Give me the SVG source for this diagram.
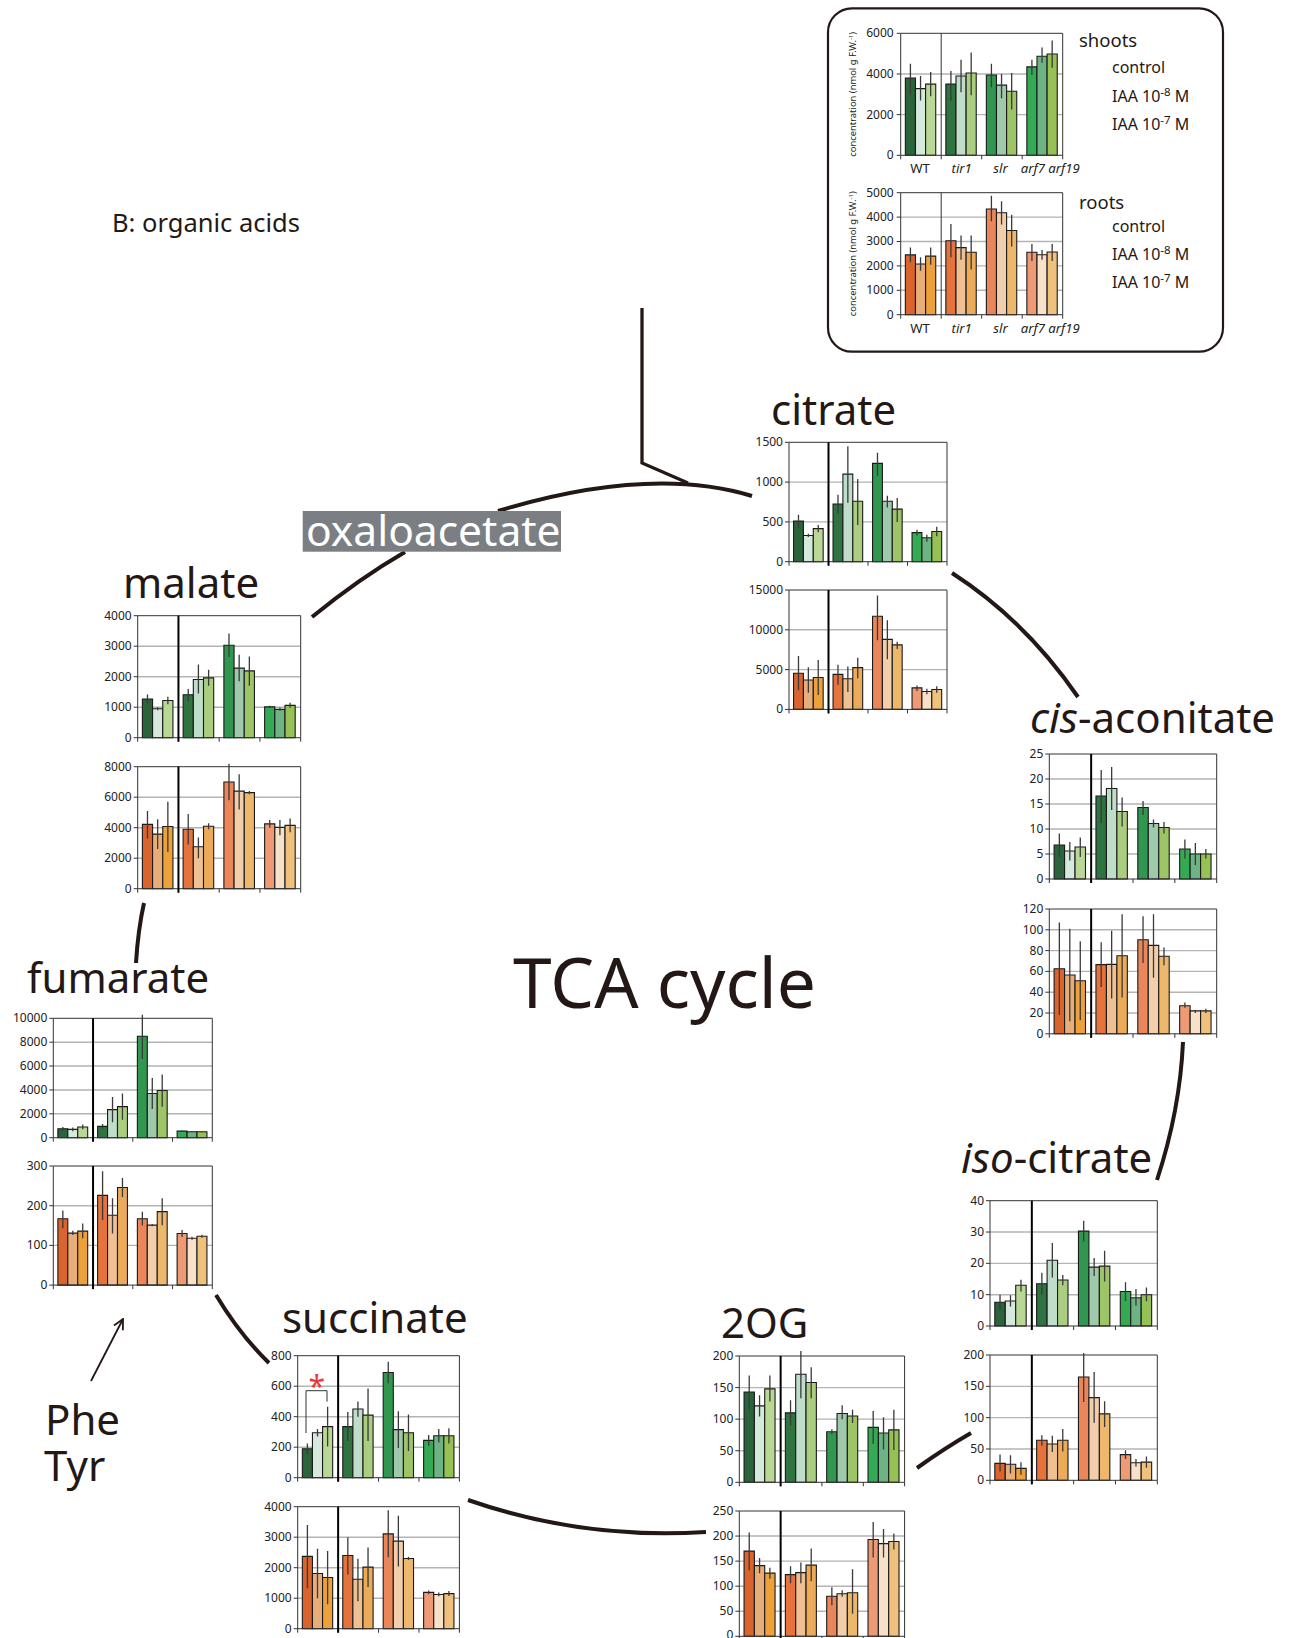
<svg xmlns="http://www.w3.org/2000/svg" width="1293" height="1638" viewBox="0 0 1293 1638">
<style>
text{font-family:"Noto Sans","Open Sans",sans-serif;fill:#231815}
.lbl{font-size:42px}
.yl{font-size:12px;text-anchor:end;fill:#222}
.xl{font-size:13.2px;fill:#222}
.yt{font-size:9.4px;text-anchor:middle;fill:#222}
.lg{font-size:16px;fill:#231815}
.d *{vector-effect:non-scaling-stroke}
.d rect{stroke:#1a1a1a;stroke-width:1.1}
.grid{stroke:#b4b4b4;stroke-width:1.4;fill:none}
.err{stroke:#3a3a3a;stroke-width:1.3;fill:none}
.ax{stroke:#333;stroke-width:1;fill:none}
.sep{stroke:#000;stroke-width:2;fill:none}
.con{stroke:#231815;stroke-width:4;fill:none;stroke-linecap:butt}
.s0{fill:#2b643a}.s1{fill:#d6e9dd}.s2{fill:#b9d795}.s3{fill:#2e7340}.s4{fill:#bfddc9}.s5{fill:#aacd80}.s6{fill:#319650}.s7{fill:#9ec9aa}.s8{fill:#9dc466}.s9{fill:#35aa55}.s10{fill:#6db384}.s11{fill:#95c155}
.r0{fill:#d9642e}.r1{fill:#e8ae7a}.r2{fill:#eda13b}.r3{fill:#e6733c}.r4{fill:#eec092}.r5{fill:#ecab58}.r6{fill:#ea865a}.r7{fill:#f2cfaa}.r8{fill:#eeb86c}.r9{fill:#ee9a74}.r10{fill:#f7e1c8}.r11{fill:#f0c17d}
</style>
<defs>
<marker id="open" viewBox="0 0 12 12" refX="11" refY="6" markerWidth="12" markerHeight="12" markerUnits="userSpaceOnUse" orient="auto">
<path d="M1 1L11 6L1 11" fill="none" stroke="#231815" stroke-width="1.8"/>
</marker>
</defs>
<rect width="1293" height="1638" fill="#fff"/>

<text x="112" y="232" style="font-size:25.5px">B: organic acids</text>
<text id="tca" x="513" y="1008" style="font-size:69.5px">TCA cycle</text>

<g id="connectors">
<path class="con" d="M498 511Q650 465 752 496"/>
<path class="con" style="stroke-width:3.3" d="M642 308V463L688 483"/>
<path class="con" d="M405 552Q360 578 312 617"/>
<path class="con" d="M952 573Q1025 620 1078 697"/>
<path class="con" d="M1183 1042Q1180 1110 1157 1180"/>
<path class="con" d="M971 1433Q945 1448 917 1468"/>
<path class="con" d="M468 1500Q583 1540 706 1532"/>
<path class="con" d="M269 1363Q240 1335 216 1295"/>
<path class="con" d="M136 963Q138 930 144 903"/>
<path fill="none" stroke="#231815" stroke-width="1.8" d="M91 1381L123 1319" marker-end="url(#open)"/>
</g>

<g id="legend">
<rect x="828" y="8.3" width="395" height="343.4" rx="24" fill="#fff" stroke="#231815" stroke-width="2.2"/>
<text x="1079" y="46.7" style="font-size:18.5px">shoots</text>
<text class="lg" x="1112" y="73">control</text>
<text class="lg" x="1112" y="102">IAA 10<tspan dy="-6" style="font-size:11.5px">-8</tspan><tspan dy="6"> M</tspan></text>
<text class="lg" x="1112" y="130">IAA 10<tspan dy="-6" style="font-size:11.5px">-7</tspan><tspan dy="6"> M</tspan></text>
<text x="1079" y="209" style="font-size:18.5px">roots</text>
<text class="lg" x="1112" y="232.3">control</text>
<text class="lg" x="1112" y="260">IAA 10<tspan dy="-6" style="font-size:11.5px">-8</tspan><tspan dy="6"> M</tspan></text>
<text class="lg" x="1112" y="288.3">IAA 10<tspan dy="-6" style="font-size:11.5px">-7</tspan><tspan dy="6"> M</tspan></text>

<g id="legend-shoots" transform="translate(900.7,33.3)">
<g class="d" transform="translate(0,122) scale(40.5,-0.020333)">
<path class="grid" d="M0 2000H4M0 4000H4"/>
<rect class="s0" x=".115" width=".25" height="3800"/><rect class="s1" x=".365" width=".25" height="3280"/><rect class="s2" x=".615" width=".25" height="3500"/>
<rect class="s3" x="1.115" width=".25" height="3500"/><rect class="s4" x="1.365" width=".25" height="3900"/><rect class="s5" x="1.615" width=".25" height="4050"/>
<rect class="s6" x="2.115" width=".25" height="3950"/><rect class="s7" x="2.365" width=".25" height="3450"/><rect class="s8" x="2.615" width=".25" height="3150"/>
<rect class="s9" x="3.115" width=".25" height="4350"/><rect class="s10" x="3.365" width=".25" height="4870"/><rect class="s11" x="3.615" width=".25" height="4980"/>
<path class="err" d="M.24 3000V4500M.49 2700V3900M.74 2900V4100M1.24 2700V4150M1.49 3100V4700M1.74 2950V5050M2.24 3350V4500M2.49 2800V4000M2.74 2250V4050M3.24 3950V4700M3.49 4550V5300M3.74 4300V5650"/>
</g>
<path class="ax" d="M0 0H162V122H0ZM-4 0H0M-4 40.67H0M-4 81.33H0M-4 122H0M0 122v4M40.5 122v4M81 122v4M121.5 122v4M162 122v4M40.5 0V122"/>
<text class="yl" x="-7" y="4">6000</text><text class="yl" x="-7" y="44.7">4000</text><text class="yl" x="-7" y="85.3">2000</text><text class="yl" x="-7" y="126">0</text>
<text class="xl" x="19.3" y="139.7" text-anchor="middle">WT</text>
<text class="xl" x="61" y="139.7" text-anchor="middle" font-style="italic">tir1</text>
<text class="xl" x="99.8" y="139.7" text-anchor="middle" font-style="italic">slr</text>
<text class="xl" x="120" y="139.7" font-style="italic">arf7 arf19</text>
<text class="yt" transform="translate(-44.5,61) rotate(-90)">concentration (nmol g F.W.<tspan dy="-3.5" style="font-size:6px">-1</tspan><tspan dy="3.5">)</tspan></text>
</g>

<g id="legend-roots" transform="translate(900.7,192.7)">
<g class="d" transform="translate(0,122) scale(40.5,-0.0244)">
<path class="grid" d="M0 1000H4M0 2000H4M0 3000H4M0 4000H4"/>
<rect class="r0" x=".115" width=".25" height="2450"/><rect class="r1" x=".365" width=".25" height="2080"/><rect class="r2" x=".615" width=".25" height="2400"/>
<rect class="r3" x="1.115" width=".25" height="3030"/><rect class="r4" x="1.365" width=".25" height="2750"/><rect class="r5" x="1.615" width=".25" height="2560"/>
<rect class="r6" x="2.115" width=".25" height="4330"/><rect class="r7" x="2.365" width=".25" height="4180"/><rect class="r8" x="2.615" width=".25" height="3450"/>
<rect class="r9" x="3.115" width=".25" height="2560"/><rect class="r10" x="3.365" width=".25" height="2460"/><rect class="r11" x="3.615" width=".25" height="2570"/>
<path class="err" d="M.24 2150V2750M.49 1800V2350M.74 2050V2750M1.24 2350V3720M1.49 2250V3250M1.74 1850V3250M2.24 3830V4870M2.49 3700V4650M2.74 2800V4100M3.24 2200V2900M3.49 2250V2650M3.74 2200V2900"/>
</g>
<path class="ax" d="M0 0H162V122H0ZM-4 0H0M-4 24.4H0M-4 48.8H0M-4 73.2H0M-4 97.6H0M-4 122H0M0 122v4M40.5 122v4M81 122v4M121.5 122v4M162 122v4M40.5 0V122"/>
<text class="yl" x="-7" y="4">5000</text><text class="yl" x="-7" y="28.4">4000</text><text class="yl" x="-7" y="52.8">3000</text><text class="yl" x="-7" y="77.2">2000</text><text class="yl" x="-7" y="101.6">1000</text><text class="yl" x="-7" y="126">0</text>
<text class="xl" x="19.3" y="140.6" text-anchor="middle">WT</text>
<text class="xl" x="61" y="140.6" text-anchor="middle" font-style="italic">tir1</text>
<text class="xl" x="99.8" y="140.6" text-anchor="middle" font-style="italic">slr</text>
<text class="xl" x="120" y="140.6" font-style="italic">arf7 arf19</text>
<text class="yt" transform="translate(-44.5,61) rotate(-90)">concentration (nmol g F.W.<tspan dy="-3.5" style="font-size:6px">-1</tspan><tspan dy="3.5">)</tspan></text>
</g>
</g>

<g id="citrate">
<text class="lbl" x="771" y="425">citrate</text>
<g id="citrate-shoots" transform="translate(789,442.3)">
<g class="d" transform="translate(0,119.4) scale(39.5,-0.0796)">
<path class="grid" d="M0 500H4M0 1000H4"/>
<rect class="s0" x=".115" width=".25" height="510"/><rect class="s1" x=".365" width=".25" height="330"/><rect class="s2" x=".615" width=".25" height="415"/>
<rect class="s3" x="1.115" width=".25" height="725"/><rect class="s4" x="1.365" width=".25" height="1100"/><rect class="s5" x="1.615" width=".25" height="760"/>
<rect class="s6" x="2.115" width=".25" height="1235"/><rect class="s7" x="2.365" width=".25" height="760"/><rect class="s8" x="2.615" width=".25" height="660"/>
<rect class="s9" x="3.115" width=".25" height="365"/><rect class="s10" x="3.365" width=".25" height="300"/><rect class="s11" x="3.615" width=".25" height="380"/>
<path class="err" d="M.24 420V590M.49 310V350M.74 370V460M1.24 610V840M1.49 740V1450M1.74 460V1040M2.24 1080V1370M2.49 680V830M2.74 500V800M3.24 330V400M3.49 250V340M3.74 320V440"/>
</g>
<path class="ax" d="M0 0H158V119.4H0ZM-4 0H0M-4 39.8H0M-4 79.6H0M-4 119.4H0M0 119.4v4M39.5 119.4v4M79 119.4v4M118.5 119.4v4M158 119.4v4"/>
<path class="sep" d="M39.5 0V123.4"/>
<text class="yl" x="-6" y="4">1500</text><text class="yl" x="-6" y="43.8">1000</text><text class="yl" x="-6" y="83.6">500</text><text class="yl" x="-6" y="123.4">0</text>
</g>
<g id="citrate-roots" transform="translate(789,590)">
<g class="d" transform="translate(0,119.4) scale(39.5,-0.00796)">
<path class="grid" d="M0 5000H4M0 10000H4"/>
<rect class="r0" x=".115" width=".25" height="4550"/><rect class="r1" x=".365" width=".25" height="3700"/><rect class="r2" x=".615" width=".25" height="4000"/>
<rect class="r3" x="1.115" width=".25" height="4400"/><rect class="r4" x="1.365" width=".25" height="3850"/><rect class="r5" x="1.615" width=".25" height="5250"/>
<rect class="r6" x="2.115" width=".25" height="11700"/><rect class="r7" x="2.365" width=".25" height="8800"/><rect class="r8" x="2.615" width=".25" height="8100"/>
<rect class="r9" x="3.115" width=".25" height="2700"/><rect class="r10" x="3.365" width=".25" height="2250"/><rect class="r11" x="3.615" width=".25" height="2500"/>
<path class="err" d="M.24 2400V6700M.49 2100V5300M.74 1800V6200M1.24 3100V5600M1.49 2200V5400M1.74 3900V6500M2.24 8700V14300M2.49 6300V11200M2.74 7600V8500M3.24 2300V3000M3.49 1900V2600M3.74 2100V2900"/>
</g>
<path class="ax" d="M0 0H158V119.4H0ZM-4 0H0M-4 39.8H0M-4 79.6H0M-4 119.4H0M0 119.4v4M39.5 119.4v4M79 119.4v4M118.5 119.4v4M158 119.4v4"/>
<path class="sep" d="M39.5 0V123.4"/>
<text class="yl" x="-6" y="4">15000</text><text class="yl" x="-6" y="43.8">10000</text><text class="yl" x="-6" y="83.6">5000</text><text class="yl" x="-6" y="123.4">0</text>
</g>
</g>

<g id="oxaloacetate">
<rect x="302.7" y="511" width="258.3" height="40.7" fill="#7b7f83"/>
<text class="lbl" x="306" y="546" style="fill:#fff;font-size:42.5px">oxaloacetate</text>
</g>

<g id="malate">
<text class="lbl" x="123" y="598">malate</text>
<g id="malate-shoots" transform="translate(137.7,615.7)">
<g class="d" transform="translate(0,122) scale(40.75,-0.0305)">
<path class="grid" d="M0 1000H4M0 2000H4M0 3000H4"/>
<rect class="s0" x=".115" width=".25" height="1270"/><rect class="s1" x=".365" width=".25" height="950"/><rect class="s2" x=".615" width=".25" height="1220"/>
<rect class="s3" x="1.115" width=".25" height="1410"/><rect class="s4" x="1.365" width=".25" height="1910"/><rect class="s5" x="1.615" width=".25" height="1960"/>
<rect class="s6" x="2.115" width=".25" height="3030"/><rect class="s7" x="2.365" width=".25" height="2280"/><rect class="s8" x="2.615" width=".25" height="2190"/>
<rect class="s9" x="3.115" width=".25" height="1010"/><rect class="s10" x="3.365" width=".25" height="930"/><rect class="s11" x="3.615" width=".25" height="1060"/>
<path class="err" d="M.24 1120V1420M.49 900V1000M.74 1100V1340M1.24 1200V1600M1.49 1450V2400M1.74 1700V2230M2.24 2650V3420M2.49 1850V2720M2.74 1700V2660M3.24 970V1050M3.49 880V990M3.74 980V1150"/>
</g>
<path class="ax" d="M0 0H163V122H0ZM-4 0H0M-4 30.5H0M-4 61H0M-4 91.5H0M-4 122H0M0 122v4M40.75 122v4M81.5 122v4M122.25 122v4M163 122v4"/>
<path class="sep" d="M40.75 0V126"/>
<text class="yl" x="-6" y="4">4000</text><text class="yl" x="-6" y="34.5">3000</text><text class="yl" x="-6" y="65">2000</text><text class="yl" x="-6" y="95.5">1000</text><text class="yl" x="-6" y="126">0</text>
</g>
<g id="malate-roots" transform="translate(137.7,766.7)">
<g class="d" transform="translate(0,122) scale(40.75,-0.01525)">
<path class="grid" d="M0 2000H4M0 4000H4M0 6000H4"/>
<rect class="r0" x=".115" width=".25" height="4220"/><rect class="r1" x=".365" width=".25" height="3580"/><rect class="r2" x=".615" width=".25" height="4080"/>
<rect class="r3" x="1.115" width=".25" height="3900"/><rect class="r4" x="1.365" width=".25" height="2750"/><rect class="r5" x="1.615" width=".25" height="4100"/>
<rect class="r6" x="2.115" width=".25" height="7000"/><rect class="r7" x="2.365" width=".25" height="6400"/><rect class="r8" x="2.615" width=".25" height="6300"/>
<rect class="r9" x="3.115" width=".25" height="4250"/><rect class="r10" x="3.365" width=".25" height="4020"/><rect class="r11" x="3.615" width=".25" height="4150"/>
<path class="err" d="M.24 3300V5100M.49 2600V4550M.74 2400V5700M1.24 2900V4900M1.49 2000V3350M1.74 3900V4300M2.24 5800V8200M2.49 5200V7500M2.74 6200V6400M3.24 4000V4500M3.49 3500V4500M3.74 3700V4600"/>
</g>
<path class="ax" d="M0 0H163V122H0ZM-4 0H0M-4 30.5H0M-4 61H0M-4 91.5H0M-4 122H0M0 122v4M40.75 122v4M81.5 122v4M122.25 122v4M163 122v4"/>
<path class="sep" d="M40.75 0V126"/>
<text class="yl" x="-6" y="4">8000</text><text class="yl" x="-6" y="34.5">6000</text><text class="yl" x="-6" y="65">4000</text><text class="yl" x="-6" y="95.5">2000</text><text class="yl" x="-6" y="126">0</text>
</g>
</g>

<g id="cis-aconitate">
<text class="lbl" x="1030" y="733"><tspan font-style="italic">cis</tspan>-aconitate</text>
<g id="cis-shoots" transform="translate(1049.3,754)">
<g class="d" transform="translate(0,125) scale(41.85,-5)">
<path class="grid" d="M0 5H4M0 10H4M0 15H4M0 20H4"/>
<rect class="s0" x=".115" width=".25" height="6.8"/><rect class="s1" x=".365" width=".25" height="5.6"/><rect class="s2" x=".615" width=".25" height="6.4"/>
<rect class="s3" x="1.115" width=".25" height="16.6"/><rect class="s4" x="1.365" width=".25" height="18.1"/><rect class="s5" x="1.615" width=".25" height="13.5"/>
<rect class="s6" x="2.115" width=".25" height="14.3"/><rect class="s7" x="2.365" width=".25" height="11.1"/><rect class="s8" x="2.615" width=".25" height="10.3"/>
<rect class="s9" x="3.115" width=".25" height="6"/><rect class="s10" x="3.365" width=".25" height="5"/><rect class="s11" x="3.615" width=".25" height="5"/>
<path class="err" d="M.24 4.4V9.1M.49 3.7V7.4M.74 4.4V8.3M1.24 11.2V21.8M1.49 13.8V22.4M1.74 10.5V16.3M2.24 12.8V15.6M2.49 10.3V11.9M2.74 9.1V11.4M3.24 4.1V7.9M3.49 2.8V7.2M3.74 4.1V6"/>
</g>
<path class="ax" d="M0 0H167.4V125H0ZM-4 0H0M-4 25H0M-4 50H0M-4 75H0M-4 100H0M-4 125H0M0 125v4M41.85 125v4M83.7 125v4M125.55 125v4M167.4 125v4"/>
<path class="sep" d="M41.85 0V129"/>
<text class="yl" x="-6" y="4">25</text><text class="yl" x="-6" y="29">20</text><text class="yl" x="-6" y="54">15</text><text class="yl" x="-6" y="79">10</text><text class="yl" x="-6" y="104">5</text><text class="yl" x="-6" y="129">0</text>
</g>
<g id="cis-roots" transform="translate(1049.3,909)">
<g class="d" transform="translate(0,124.8) scale(41.85,-1.04)">
<path class="grid" d="M0 20H4M0 40H4M0 60H4M0 80H4M0 100H4"/>
<rect class="r0" x=".115" width=".25" height="62.5"/><rect class="r1" x=".365" width=".25" height="56.5"/><rect class="r2" x=".615" width=".25" height="51"/>
<rect class="r3" x="1.115" width=".25" height="66.5"/><rect class="r4" x="1.365" width=".25" height="66.8"/><rect class="r5" x="1.615" width=".25" height="75"/>
<rect class="r6" x="2.115" width=".25" height="90.5"/><rect class="r7" x="2.365" width=".25" height="85"/><rect class="r8" x="2.615" width=".25" height="74.5"/>
<rect class="r9" x="3.115" width=".25" height="27"/><rect class="r10" x="3.365" width=".25" height="22"/><rect class="r11" x="3.615" width=".25" height="22"/>
<path class="err" d="M.24 18V107M.49 12V101M.74 13V89M1.24 45V88M1.49 34V99M1.74 35V115M2.24 68V113M2.49 54V115M2.74 66V83M3.24 25V30M3.49 20V23M3.74 20V24"/>
</g>
<path class="ax" d="M0 0H167.4V124.8H0ZM-4 0H0M-4 20.8H0M-4 41.6H0M-4 62.4H0M-4 83.2H0M-4 104H0M-4 124.8H0M0 124.8v4M41.85 124.8v4M83.7 124.8v4M125.55 124.8v4M167.4 124.8v4"/>
<path class="sep" d="M41.85 0V128.8"/>
<text class="yl" x="-6" y="4">120</text><text class="yl" x="-6" y="24.8">100</text><text class="yl" x="-6" y="45.6">80</text><text class="yl" x="-6" y="66.4">60</text><text class="yl" x="-6" y="87.2">40</text><text class="yl" x="-6" y="108">20</text><text class="yl" x="-6" y="128.8">0</text>
</g>
</g>

<g id="fumarate">
<text class="lbl" x="27" y="993">fumarate</text>
<g id="fumarate-shoots" transform="translate(53.3,1018.3)">
<g class="d" transform="translate(0,119.4) scale(39.75,-0.01194)">
<path class="grid" d="M0 2000H4M0 4000H4M0 6000H4M0 8000H4"/>
<rect class="s0" x=".115" width=".25" height="750"/><rect class="s1" x=".365" width=".25" height="700"/><rect class="s2" x=".615" width=".25" height="900"/>
<rect class="s3" x="1.115" width=".25" height="950"/><rect class="s4" x="1.365" width=".25" height="2350"/><rect class="s5" x="1.615" width=".25" height="2600"/>
<rect class="s6" x="2.115" width=".25" height="8500"/><rect class="s7" x="2.365" width=".25" height="3700"/><rect class="s8" x="2.615" width=".25" height="3950"/>
<rect class="s9" x="3.115" width=".25" height="550"/><rect class="s10" x="3.365" width=".25" height="500"/><rect class="s11" x="3.615" width=".25" height="500"/>
<path class="err" d="M.24 600V900M.49 550V850M.74 700V1100M1.24 750V1150M1.49 1300V3400M1.74 1500V3700M2.24 6600V10300M2.49 2400V5000M2.74 2600V5300M3.24 500V600M3.49 470V530M3.74 460V540"/>
</g>
<path class="ax" d="M0 0H159V119.4H0ZM-4 0H0M-4 23.88H0M-4 47.76H0M-4 71.64H0M-4 95.52H0M-4 119.4H0M0 119.4v4M39.75 119.4v4M79.5 119.4v4M119.25 119.4v4M159 119.4v4"/>
<path class="sep" d="M39.75 0V123.4"/>
<text class="yl" x="-6" y="4">10000</text><text class="yl" x="-6" y="27.9">8000</text><text class="yl" x="-6" y="51.8">6000</text><text class="yl" x="-6" y="75.6">4000</text><text class="yl" x="-6" y="99.5">2000</text><text class="yl" x="-6" y="123.4">0</text>
</g>
<g id="fumarate-roots" transform="translate(53.3,1166)">
<g class="d" transform="translate(0,119.1) scale(39.75,-0.397)">
<path class="grid" d="M0 100H4M0 200H4"/>
<rect class="r0" x=".115" width=".25" height="167"/><rect class="r1" x=".365" width=".25" height="131"/><rect class="r2" x=".615" width=".25" height="136"/>
<rect class="r3" x="1.115" width=".25" height="226"/><rect class="r4" x="1.365" width=".25" height="176"/><rect class="r5" x="1.615" width=".25" height="246"/>
<rect class="r6" x="2.115" width=".25" height="167"/><rect class="r7" x="2.365" width=".25" height="151"/><rect class="r8" x="2.615" width=".25" height="185"/>
<rect class="r9" x="3.115" width=".25" height="130"/><rect class="r10" x="3.365" width=".25" height="118"/><rect class="r11" x="3.615" width=".25" height="123"/>
<path class="err" d="M.24 143V188M.49 126V137M.74 118V155M1.24 164V287M1.49 130V219M1.74 222V270M2.24 150V185M2.49 148V154M2.74 151V219M3.24 121V139M3.49 114V122M3.74 119V127"/>
</g>
<path class="ax" d="M0 0H159V119.1H0ZM-4 0H0M-4 39.7H0M-4 79.4H0M-4 119.1H0M0 119.1v4M39.75 119.1v4M79.5 119.1v4M119.25 119.1v4M159 119.1v4"/>
<path class="sep" d="M39.75 0V123.1"/>
<text class="yl" x="-6" y="4">300</text><text class="yl" x="-6" y="43.7">200</text><text class="yl" x="-6" y="83.4">100</text><text class="yl" x="-6" y="123.1">0</text>
</g>
</g>

<g id="iso-citrate">
<text class="lbl" x="961" y="1173"><tspan font-style="italic">iso</tspan>-citrate</text>
<g id="iso-shoots" transform="translate(990,1200.7)">
<g class="d" transform="translate(0,125.3) scale(41.825,-3.1325)">
<path class="grid" d="M0 10H4M0 20H4M0 30H4"/>
<rect class="s0" x=".115" width=".25" height="7.6"/><rect class="s1" x=".365" width=".25" height="8"/><rect class="s2" x=".615" width=".25" height="13"/>
<rect class="s3" x="1.115" width=".25" height="13.5"/><rect class="s4" x="1.365" width=".25" height="21"/><rect class="s5" x="1.615" width=".25" height="14.7"/>
<rect class="s6" x="2.115" width=".25" height="30.3"/><rect class="s7" x="2.365" width=".25" height="18.8"/><rect class="s8" x="2.615" width=".25" height="19.1"/>
<rect class="s9" x="3.115" width=".25" height="11"/><rect class="s10" x="3.365" width=".25" height="9"/><rect class="s11" x="3.615" width=".25" height="10"/>
<path class="err" d="M.24 5.2V10M.49 6.2V9.8M.74 11V14.8M1.24 10V17M1.49 15.5V26.5M1.74 13V16.3M2.24 27V33.6M2.49 16V21.7M2.74 14.2V24M3.24 8V14M3.49 6.5V11.8M3.74 7.9V12.3"/>
</g>
<path class="ax" d="M0 0H167.3V125.3H0ZM-4 0H0M-4 31.33H0M-4 62.65H0M-4 93.98H0M-4 125.3H0M0 125.3v4M41.83 125.3v4M83.65 125.3v4M125.48 125.3v4M167.3 125.3v4"/>
<path class="sep" d="M41.83 0V129.3"/>
<text class="yl" x="-6" y="4">40</text><text class="yl" x="-6" y="35.3">30</text><text class="yl" x="-6" y="66.7">20</text><text class="yl" x="-6" y="98">10</text><text class="yl" x="-6" y="129.3">0</text>
</g>
<g id="iso-roots" transform="translate(990,1355)">
<g class="d" transform="translate(0,125.3) scale(41.825,-0.6265)">
<path class="grid" d="M0 50H4M0 100H4M0 150H4"/>
<rect class="r0" x=".115" width=".25" height="27"/><rect class="r1" x=".365" width=".25" height="25.5"/><rect class="r2" x=".615" width=".25" height="19"/>
<rect class="r3" x="1.115" width=".25" height="64"/><rect class="r4" x="1.365" width=".25" height="58"/><rect class="r5" x="1.615" width=".25" height="64"/>
<rect class="r6" x="2.115" width=".25" height="165"/><rect class="r7" x="2.365" width=".25" height="132"/><rect class="r8" x="2.615" width=".25" height="106"/>
<rect class="r9" x="3.115" width=".25" height="41"/><rect class="r10" x="3.365" width=".25" height="28"/><rect class="r11" x="3.615" width=".25" height="29"/>
<path class="err" d="M.24 14V41M.49 11V40M.74 9V29M1.24 55V72M1.49 45V71M1.74 46V82M2.24 125V203M2.49 92V173M2.74 85V126M3.24 34V48M3.49 22V34M3.74 20V38"/>
</g>
<path class="ax" d="M0 0H167.3V125.3H0ZM-4 0H0M-4 31.33H0M-4 62.65H0M-4 93.98H0M-4 125.3H0M0 125.3v4M41.83 125.3v4M83.65 125.3v4M125.48 125.3v4M167.3 125.3v4"/>
<path class="sep" d="M41.83 0V129.3"/>
<text class="yl" x="-6" y="4">200</text><text class="yl" x="-6" y="35.3">150</text><text class="yl" x="-6" y="66.7">100</text><text class="yl" x="-6" y="98">50</text><text class="yl" x="-6" y="129.3">0</text>
</g>
</g>

<g id="succinate">
<text class="lbl" x="282" y="1333">succinate</text>
<g id="succinate-shoots" transform="translate(297.7,1355.7)">
<g class="d" transform="translate(0,122) scale(40.425,-0.1525)">
<path class="grid" d="M0 200H4M0 400H4M0 600H4"/>
<rect class="s0" x=".115" width=".25" height="190"/><rect class="s1" x=".365" width=".25" height="295"/><rect class="s2" x=".615" width=".25" height="335"/>
<rect class="s3" x="1.115" width=".25" height="335"/><rect class="s4" x="1.365" width=".25" height="450"/><rect class="s5" x="1.615" width=".25" height="410"/>
<rect class="s6" x="2.115" width=".25" height="690"/><rect class="s7" x="2.365" width=".25" height="315"/><rect class="s8" x="2.615" width=".25" height="295"/>
<rect class="s9" x="3.115" width=".25" height="245"/><rect class="s10" x="3.365" width=".25" height="275"/><rect class="s11" x="3.615" width=".25" height="275"/>
<path class="err" d="M.24 155V225M.49 270V320M.74 205V465M1.24 240V430M1.49 400V500M1.74 240V585M2.24 620V760M2.49 195V435M2.74 175V415M3.24 210V280M3.49 230V320M3.74 225V325"/>
</g>
<path class="ax" d="M0 0H161.7V122H0ZM-4 0H0M-4 30.5H0M-4 61H0M-4 91.5H0M-4 122H0M0 122v4M40.43 122v4M80.85 122v4M121.28 122v4M161.7 122v4"/>
<path class="sep" d="M40.43 0V126"/>
<text class="yl" x="-6" y="4">800</text><text class="yl" x="-6" y="34.5">600</text><text class="yl" x="-6" y="65">400</text><text class="yl" x="-6" y="95.5">200</text><text class="yl" x="-6" y="126">0</text>
</g>
<path fill="none" stroke="#333" stroke-width="1" d="M306 1433V1390.7H327V1401.7"/>
<text x="316.7" y="1397" text-anchor="middle" style="font-size:30px;fill:#e8383d">*</text>
<g id="succinate-roots" transform="translate(297.7,1506.7)">
<g class="d" transform="translate(0,122) scale(40.425,-0.0305)">
<path class="grid" d="M0 1000H4M0 2000H4M0 3000H4"/>
<rect class="r0" x=".115" width=".25" height="2370"/><rect class="r1" x=".365" width=".25" height="1810"/><rect class="r2" x=".615" width=".25" height="1680"/>
<rect class="r3" x="1.115" width=".25" height="2400"/><rect class="r4" x="1.365" width=".25" height="1620"/><rect class="r5" x="1.615" width=".25" height="2020"/>
<rect class="r6" x="2.115" width=".25" height="3110"/><rect class="r7" x="2.365" width=".25" height="2870"/><rect class="r8" x="2.615" width=".25" height="2300"/>
<rect class="r9" x="3.115" width=".25" height="1190"/><rect class="r10" x="3.365" width=".25" height="1120"/><rect class="r11" x="3.615" width=".25" height="1150"/>
<path class="err" d="M.24 1330V3400M.49 1000V2620M.74 800V2550M1.24 1780V3000M1.49 900V2290M1.74 1370V2660M2.24 2340V3880M2.49 2040V3700M2.74 2250V2360M3.24 1130V1250M3.49 1060V1190M3.74 1070V1240"/>
</g>
<path class="ax" d="M0 0H161.7V122H0ZM-4 0H0M-4 30.5H0M-4 61H0M-4 91.5H0M-4 122H0M0 122v4M40.43 122v4M80.85 122v4M121.28 122v4M161.7 122v4"/>
<path class="sep" d="M40.43 0V126"/>
<text class="yl" x="-6" y="4">4000</text><text class="yl" x="-6" y="34.5">3000</text><text class="yl" x="-6" y="65">2000</text><text class="yl" x="-6" y="95.5">1000</text><text class="yl" x="-6" y="126">0</text>
</g>
</g>

<g id="2OG">
<text class="lbl" x="721" y="1338">2OG</text>
<g id="2OG-shoots" transform="translate(739.3,1356)">
<g class="d" transform="translate(0,126.3) scale(41.325,-0.6315)">
<path class="grid" d="M0 50H4M0 100H4M0 150H4"/>
<rect class="s0" x=".115" width=".25" height="143"/><rect class="s1" x=".365" width=".25" height="121"/><rect class="s2" x=".615" width=".25" height="148"/>
<rect class="s3" x="1.115" width=".25" height="110"/><rect class="s4" x="1.365" width=".25" height="171"/><rect class="s5" x="1.615" width=".25" height="158"/>
<rect class="s6" x="2.115" width=".25" height="80"/><rect class="s7" x="2.365" width=".25" height="109"/><rect class="s8" x="2.615" width=".25" height="105"/>
<rect class="s9" x="3.115" width=".25" height="87"/><rect class="s10" x="3.365" width=".25" height="78"/><rect class="s11" x="3.615" width=".25" height="83"/>
<path class="err" d="M.24 116V169M.49 104V138M.74 128V169M1.24 90V130M1.49 133V208M1.74 133V182M2.24 76V84M2.49 100V122M2.74 94V115M3.24 61V113M3.49 52V103M3.74 51V115"/>
</g>
<path class="ax" d="M0 0H165.3V126.3H0ZM-4 0H0M-4 31.58H0M-4 63.15H0M-4 94.73H0M-4 126.3H0M0 126.3v4M41.33 126.3v4M82.65 126.3v4M123.98 126.3v4M165.3 126.3v4"/>
<path class="sep" d="M41.33 0V130.3"/>
<text class="yl" x="-6" y="4">200</text><text class="yl" x="-6" y="35.6">150</text><text class="yl" x="-6" y="67.2">100</text><text class="yl" x="-6" y="98.7">50</text><text class="yl" x="-6" y="130.3">0</text>
</g>
<g id="2OG-roots" transform="translate(739.3,1511)">
<g class="d" transform="translate(0,125.3) scale(41.325,-0.5012)">
<path class="grid" d="M0 50H4M0 100H4M0 150H4M0 200H4"/>
<rect class="r0" x=".115" width=".25" height="170"/><rect class="r1" x=".365" width=".25" height="141"/><rect class="r2" x=".615" width=".25" height="126"/>
<rect class="r3" x="1.115" width=".25" height="123"/><rect class="r4" x="1.365" width=".25" height="127"/><rect class="r5" x="1.615" width=".25" height="142"/>
<rect class="r6" x="2.115" width=".25" height="80"/><rect class="r7" x="2.365" width=".25" height="85"/><rect class="r8" x="2.615" width=".25" height="87"/>
<rect class="r9" x="3.115" width=".25" height="193"/><rect class="r10" x="3.365" width=".25" height="185"/><rect class="r11" x="3.615" width=".25" height="189"/>
<path class="err" d="M.24 132V207M.49 126V156M.74 115V137M1.24 106V140M1.49 106V147M1.74 110V175M2.24 62V98M2.49 79V92M2.74 45V134M3.24 157V228M3.49 157V214M3.74 173V205"/>
</g>
<path class="ax" d="M0 0H165.3V125.3H0ZM-4 0H0M-4 25.06H0M-4 50.12H0M-4 75.18H0M-4 100.24H0M-4 125.3H0M0 125.3v4M41.33 125.3v4M82.65 125.3v4M123.98 125.3v4M165.3 125.3v4"/>
<path class="sep" d="M41.33 0V129.3"/>
<text class="yl" x="-6" y="4">250</text><text class="yl" x="-6" y="29.1">200</text><text class="yl" x="-6" y="54.1">150</text><text class="yl" x="-6" y="79.2">100</text><text class="yl" x="-6" y="104.2">50</text><text class="yl" x="-6" y="128">0</text>
</g>
</g>

<g id="phe-tyr">
<text class="lbl" x="45" y="1435">Phe</text>
<text class="lbl" x="44" y="1481">Tyr</text>
</g>
</svg>
